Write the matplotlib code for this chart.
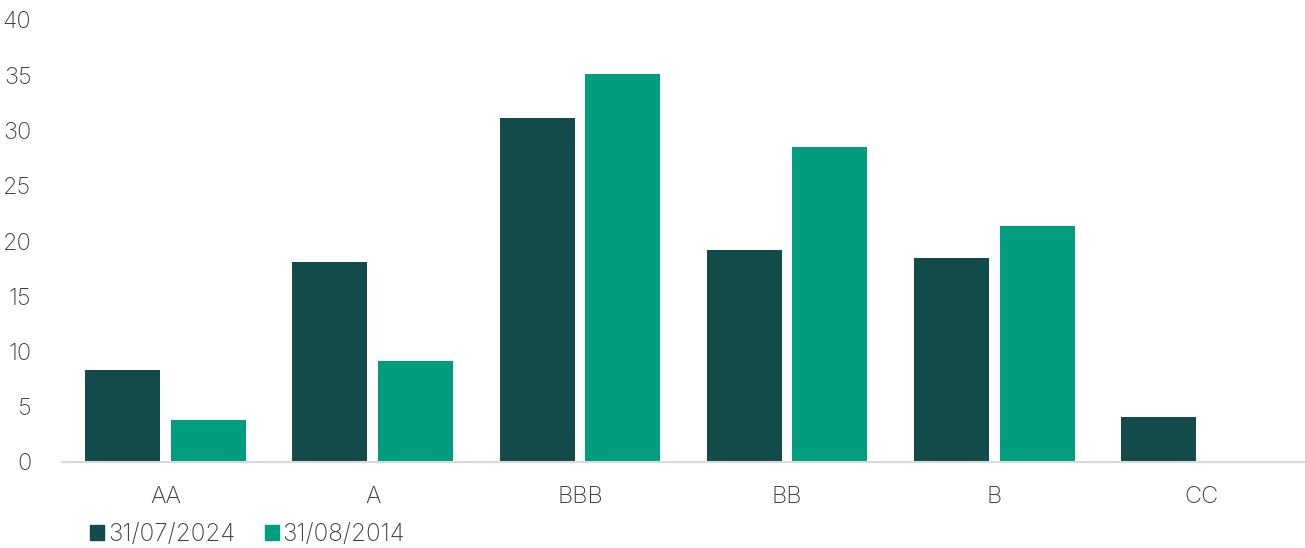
import matplotlib
matplotlib.use('Agg')
import numpy as np
import matplotlib.pyplot as plt
from matplotlib.patches import Patch

ratings = ['AA', 'A', 'BBB', 'BB', 'B', 'CC']
jul_2024 = [8.3, 18.1, 31.1, 19.2, 18.5, 4.1]
aug_2014 = [3.8, 9.1, 35.1, 28.5, 21.4, 0.0]
series_names = ['31/07/2024', '31/08/2014']

dark = '#134a4a'
teal = '#009e7e'
grey = '#404040'

plt.rcParams['font.family'] = ['Inter', 'DejaVu Sans']
plt.rcParams['font.weight'] = 'light'

fig = plt.figure(figsize=(13.05, 5.48), dpi=100)
ax = fig.add_axes([62 / 1305, 86 / 548, 1243 / 1305, 442 / 548])

x = np.arange(len(ratings))
w = 0.362
ax.bar(x - 0.207, jul_2024, w, color=dark)
ax.bar(x + 0.207, aug_2014, w, color=teal)

ax.set_xlim(-0.5, len(ratings) - 0.5)
ax.set_ylim(0, 40)
ax.set_yticks(range(0, 41, 5))
ax.set_xticks(x)
ax.set_xticklabels(ratings)

for s in ['top', 'right', 'left']:
    ax.spines[s].set_visible(False)
ax.spines['bottom'].set_color('#d9d9d9')
ax.spines['bottom'].set_linewidth(1.5)
ax.tick_params(axis='y', length=0, pad=22, labelsize=17, labelcolor=grey)
ax.tick_params(axis='x', length=0, pad=17, labelsize=17, labelcolor=grey)

handles = [Patch(color=dark, label=series_names[0]),
           Patch(color=teal, label=series_names[1])]
fig.legend(handles=handles, loc='lower left', bbox_to_anchor=(68 / 1305, -0.036),
           ncol=2, frameon=False, fontsize=17.5, labelcolor=grey,
           handlelength=0.6, handleheight=0.6, handletextpad=0.15, columnspacing=1.2)

fig.savefig('out.png', dpi=100)
